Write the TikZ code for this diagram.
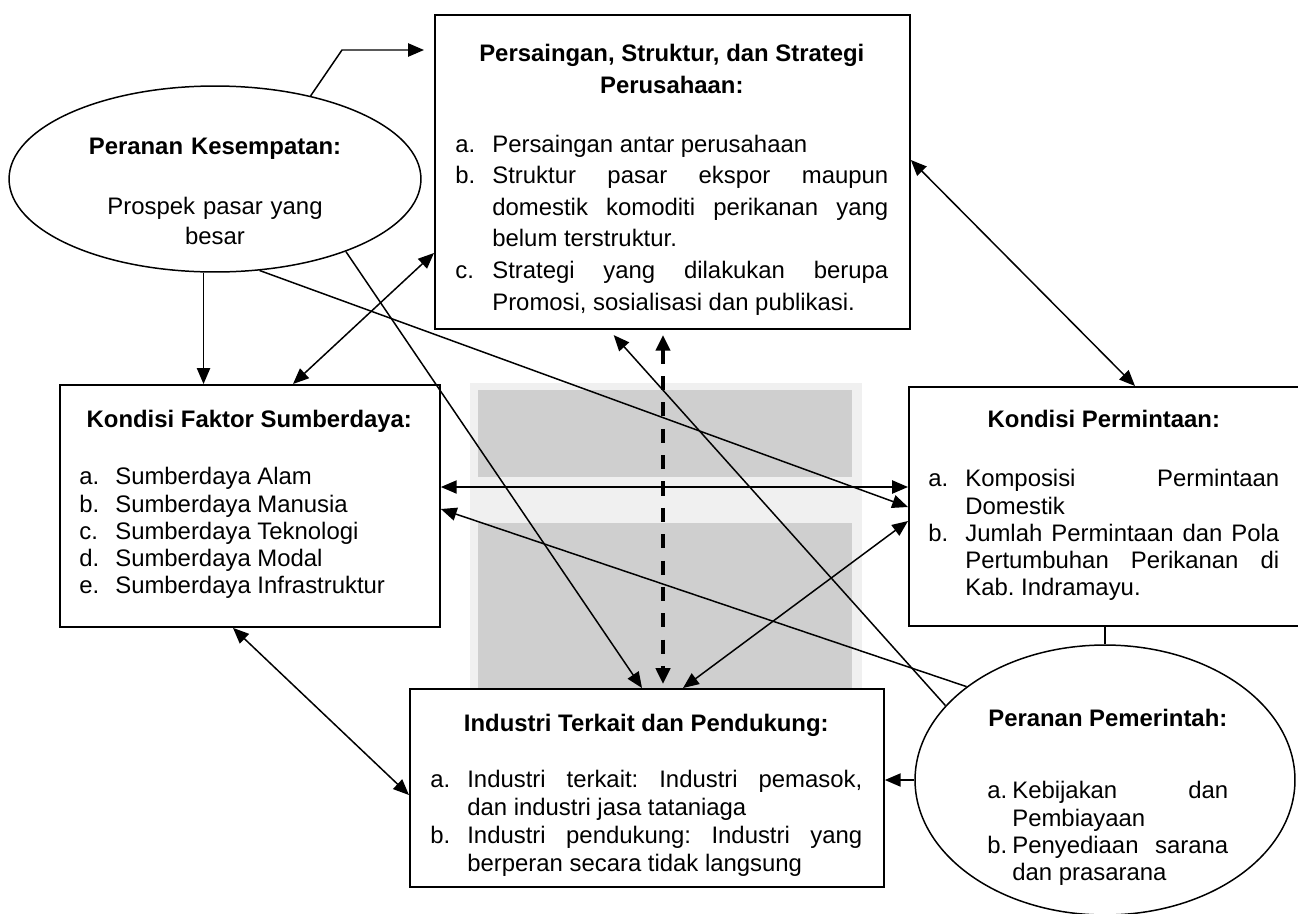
\documentclass[tikz,border=0pt]{standalone}
\usepackage{fontspec}
\setmainfont{Liberation Sans}
\usetikzlibrary{arrows.meta,shapes.geometric}

\newcommand{\ttl}[1]{\par\noindent\makebox[\hsize]{\bfseries #1}\par}
\newcommand{\itm}[2][0.74cm]{\par\noindent\hangindent=#1\hangafter=1\makebox[#1][l]{#2}\ignorespaces}
\tolerance=10000 \hbadness=10000 \hyphenpenalty=10000
\frenchspacing

\tikzset{
  box/.style={draw, line width=1.1pt, fill=white, inner sep=0pt, anchor=north west},
  oval/.style={draw, ellipse, line width=0.85pt, fill=white, inner sep=0pt},
  txt/.style={inner sep=0pt, anchor=north west, align=justify, font=\fontsize{13.6}{15.4}\selectfont},
  con/.style={line width=0.85pt, -{Triangle[length=9pt,width=7.5pt]}},
  dcon/.style={line width=0.85pt, {Triangle[length=9pt,width=7.5pt]}-{Triangle[length=9pt,width=7.5pt]}},
  dashcon/.style={line width=2.2pt, dash pattern=on 8pt off 7pt, {Triangle[length=9pt,width=8pt]}-{Triangle[length=9pt,width=8pt]}},
}

\begin{document}
\begin{tikzpicture}[x=0.02cm, y=-0.02cm]
\useasboundingbox (0,0) rectangle (1298,913);

% grey panel behind the middle
\fill[black!6] (470,383) rectangle (862,688);
\fill[black!19] (478,390) rectangle (852,477);
\fill[black!19] (478,523) rectangle (852,688);

% boxes and ovals
\node[box, minimum width=9.5cm, minimum height=6.28cm] (p1) at (434,14) {};
\node[box, minimum width=7.6cm, minimum height=4.84cm] (fak) at (59,384) {};
\node[box, minimum width=7.84cm, minimum height=4.78cm] (per) at (908,386) {};
\node[box, minimum width=9.48cm, minimum height=3.96cm] (ind) at (409,688) {};
\node[oval, minimum width=8.24cm, minimum height=3.72cm] (kes) at (215,179) {};
\node[oval, minimum width=7.6cm, minimum height=5.4cm] (pem) at (1105,780) {};

% texts
\node[txt, text width=8.66cm, font=\fontsize{13.6}{18}\selectfont] (p1txt) at (455,29.5) {%
  \ttl{Persaingan, Struktur, dan Strategi}\ttl{Perusahaan:}\vspace{0.546cm}
  \itm{a.}Persaingan antar perusahaan
  \itm{b.}Struktur pasar ekspor maupun\linebreak domestik komoditi perikanan yang\linebreak belum terstruktur.
  \itm{c.}Strategi yang dilakukan berupa\linebreak Promosi, sosialisasi dan publikasi.\par};
\node[txt, text width=6.8cm, font=\fontsize{13.6}{15.5}\selectfont] (faktxt) at (79,399.5) {%
  \ttl{Kondisi Faktor Sumberdaya:}\vspace{0.61cm}
  \itm[0.72cm]{a.}Sumberdaya Alam
  \itm[0.72cm]{b.}Sumberdaya Manusia
  \itm[0.72cm]{c.}Sumberdaya Teknologi
  \itm[0.72cm]{d.}Sumberdaya Modal
  \itm[0.72cm]{e.}Sumberdaya Infrastruktur\par};
\node[txt, text width=7.02cm] (pertxt) at (928,400.5) {%
  \ttl{Kondisi Permintaan:}\vspace{0.64cm}
  \itm{a.}Komposisi Permintaan\linebreak Domestik
  \itm{b.}Jumlah Permintaan dan Pola\linebreak Pertumbuhan Perikanan di\linebreak Kab. Indramayu.\par};
\node[txt, text width=8.64cm, font=\fontsize{13.6}{15.9}\selectfont] (indtxt) at (430,703) {%
  \ttl{Industri Terkait dan Pendukung:}\vspace{0.56cm}
  \itm{a.}Industri terkait: Industri pemasok,\linebreak dan industri jasa tataniaga
  \itm{b.}Industri pendukung: Industri yang\linebreak berperan secara tidak langsung\par};
\node[txt, anchor=north, text width=7cm, align=center, font=\fontsize{13.6}{17.1}\selectfont] (kestxt) at (215,124.5) {%
  \ttl{Peranan Kesempatan:}\vspace{0.6cm}
  Prospek pasar yang\\ besar\par};
\node[txt, text width=4.82cm] (pemtxt) at (987,699.5) {%
  \ttl{Peranan Pemerintah:}\vspace{0.9cm}
  \itm[0.5cm]{a.}Kebijakan dan\linebreak Pembiayaan
  \itm[0.5cm]{b.}Penyediaan sarana\linebreak dan prasarana\par};

% connectors
\draw[con, shorten >=0.2cm] (kes.41) -- (342,50) -- (p1.west |- 0,50);
\draw[con] (kes.-97) -- (kes.-97 |- fak.north);
\draw[dcon] (fak.north -| 293,0) -- (p1.west |- 0,253);
\draw[con] (kes.-29) -- (ind.north -| 642,0);
\draw[con] (kes.-64) -- (per.west |- 0,507);
\draw[dcon] (fak.east |- 0,487) -- (per.west |- 0,487);
\draw[con] (pem.146) -- (fak.east |- 0,509);
\draw[con, shorten >=0.14cm] (pem.155) -- (p1.south -| 609,0);
\draw[dashcon, shorten <=0.1cm, shorten >=0.08cm] (p1.south -| 663,0) -- (ind.north -| 663,0);
\draw[dcon] (ind.north -| 683,0) -- (per.west |- 0,521);
\draw[dcon] (fak.south -| 233,0) -- (ind.west |- 0,795);
\draw[con] (pem.west) -- (pem.west -| ind.east);
\draw[line width=0.85pt] (pem.north) -- (pem.north |- per.south);
\draw[dcon] (p1.east |- 0,160) -- (per.north -| 1135,0);
\end{tikzpicture}
\end{document}
